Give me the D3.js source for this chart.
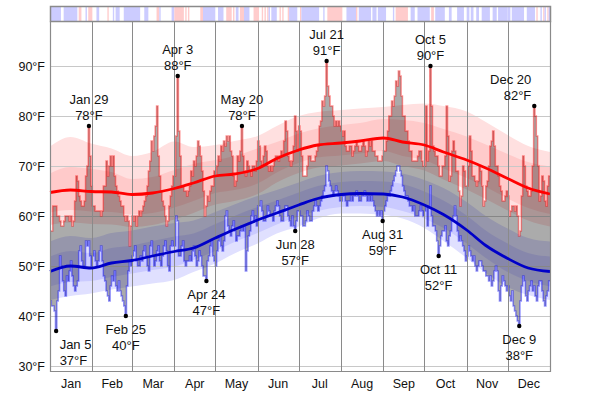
<!DOCTYPE html>
<html><head><meta charset="utf-8">
<script src="https://cdn.jsdelivr.net/npm/d3@7"></script>
<style>
body{margin:0;background:#fff}
svg{display:block}
text{font-family:"Liberation Sans",Arial,sans-serif;fill:#111}
</style>
</head><body><svg id="c" width="600" height="394"></svg>
<script>
// ---------- DATA ----------
const months = ["Jan","Feb","Mar","Apr","May","Jun","Jul","Aug","Sep","Oct","Nov","Dec"];
const monthStartDays = [0,31,60,91,121,152,182,213,244,274,305,335,366];
const yTicks = [30,40,50,60,70,80,90];

const dailyHigh = [
 57,57,62,62,62,60,60,59,58,58,59,60,60,60,59,60,58,59,63,68,67,64,63,62,62,63,68,70,78,72,66,
 62,62,61,61,61,61,60,61,66,66,71,68,70,72,70,72,68,66,65,64,63,62,62,60,59,60,59,54,58,
 60,59,60,58,60,61,60,61,62,63,64,66,69,71,75,73,76,78,82,72,68,65,63,62,60,58,59,62,64,66,68,
 68,76,88,77,72,66,66,65,65,64,65,66,69,68,71,70,72,75,74,72,69,65,60,62,64,63,65,66,66,69,
 68,70,72,71,74,73,75,74,76,75,76,73,72,68,66,67,72,71,73,78,72,69,68,71,70,69,68,70,70,69,71,
 75,74,71,70,72,74,73,70,69,70,69,70,71,72,72,71,72,73,72,75,79,77,72,71,70,71,74,80,77,73,
 78,77,72,68,68,68,70,72,72,71,71,71,72,73,74,78,79,83,82,84,91,86,84,82,82,80,78,79,78,79,78,
 77,76,77,74,73,73,74,74,72,73,74,75,74,73,73,74,75,74,72,73,75,74,75,73,73,72,72,71,71,71,72,
 73,73,75,77,80,80,83,82,84,87,86,89,88,84,80,80,77,77,75,73,73,71,71,71,71,72,73,73,71,70,
 70,82,71,73,90,82,74,73,72,72,70,68,68,70,70,72,82,76,67,68,73,75,73,69,69,65,62,64,70,69,66,
 66,70,76,73,68,68,67,66,67,70,69,66,62,63,66,67,70,74,75,77,74,70,70,68,66,65,63,63,64,65,
 64,60,61,62,62,61,62,60,56,57,64,72,70,66,65,64,64,65,70,82,80,76,70,63,64,68,67,63,62,66,68
];
const dailyLow = [
 43,42,42,41,37,43,45,52,50,47,45,44,48,47,49,51,48,46,45,46,47,53,54,51,50,50,55,54,55,52,50,
 52,53,51,50,51,53,54,51,48,47,45,44,43,46,48,47,49,46,45,47,45,44,43,42,40,46,49,51,50,
 52,53,54,51,50,50,52,51,53,54,52,50,49,54,55,52,50,51,53,54,51,50,52,54,55,53,50,49,54,55,54,
 54,60,59,52,52,54,55,51,50,51,51,52,51,53,54,52,50,51,53,52,50,48,48,47,51,52,54,55,52,51,
 50,53,55,56,54,53,55,60,61,58,57,56,58,59,57,55,56,56,57,58,57,58,49,53,56,57,60,61,59,60,58,
 62,62,63,61,59,59,60,62,61,60,60,59,61,62,63,62,60,59,59,61,62,62,60,59,58,60,58,57,59,61,
 61,60,60,58,58,59,61,60,59,59,61,62,63,62,61,62,63,64,65,66,70,69,67,66,65,64,65,66,65,64,63,
 63,64,64,63,62,63,63,64,63,64,64,65,64,63,63,64,64,65,64,63,64,63,64,63,62,61,60,61,60,61,59,
 61,62,63,64,64,65,66,67,68,69,70,70,69,68,66,65,64,64,63,62,62,61,62,60,60,60,61,62,61,60,
 61,62,58,62,66,60,58,58,57,55,52,54,56,57,57,58,55,54,56,57,59,60,62,60,57,55,56,55,54,53,51,
 52,54,53,52,51,52,50,49,50,51,51,50,49,49,48,48,47,48,46,47,49,50,49,45,43,46,48,47,46,45,
 46,44,43,45,42,41,40,39,38,43,46,48,47,44,43,45,46,47,45,46,44,43,46,47,47,45,43,42,44,45,47
];

// smoothed normals (day of year anchor points)
const bandDays = [0,15,30,45,60,75,91,105,121,135,152,166,182,196,213,227,244,258,274,288,305,319,335,350,366];
const avgHigh = [64.7,65.2,64.9,64.8,64.3,64.6,65.5,66.6,68.0,68.4,69.5,71.5,73.2,74.2,74.6,75.0,75.6,74.8,74.2,72.8,71.2,69.6,67.5,65.6,64.4];
const high90 = [73.9,75.8,74.5,73.5,72.0,72.8,74.9,73.8,74.2,75.0,76.0,78.0,80.0,80.8,81.2,81.5,81.8,82.2,82.5,82.0,80.9,78.8,76.2,74.0,72.8];
const high75 = [68.5,69.8,69.4,68.8,67.4,67.8,69.2,70.4,71.2,72.0,73.5,74.8,76.5,77.5,78.2,78.6,79.4,79.2,78.6,77.4,75.9,74.3,72.4,70.8,69.9];
const high25 = [60.7,61.2,60.9,60.8,60.3,60.6,61.7,63.0,64.6,65.2,66.5,68.7,70.6,71.7,72.1,72.5,73.0,72.0,71.2,69.5,67.6,65.8,63.5,61.6,60.4];
const high10 = [58.2,58.7,58.4,58.3,57.8,58.2,59.3,60.6,62.3,63.0,64.4,66.7,68.6,69.7,70.1,70.5,71.0,70.0,69.1,67.3,65.3,63.4,61.1,59.1,57.9];
const avgLow = [48.9,50.0,49.6,50.6,51.1,52.0,52.9,53.6,55.6,57.3,59.2,60.6,62.2,63.5,64.3,64.5,64.4,63.8,62.2,60.3,57.2,54.1,51.5,49.6,48.9];
const low90 = [54.9,56.0,55.6,56.6,57.1,57.9,58.6,59.1,60.8,62.3,64.0,65.2,66.7,68.0,68.8,69.0,68.9,68.5,67.2,65.6,62.8,60.0,57.5,55.6,54.9];
const low75 = [51.9,53.0,52.6,53.6,54.1,55.0,55.9,56.5,58.4,60.0,61.8,63.1,64.7,66.0,66.8,67.0,66.9,66.4,64.9,63.1,60.1,57.1,54.5,52.6,51.9];
const low25 = [45.9,46.8,47.0,47.8,48.5,49.2,49.9,51.2,53.0,54.8,56.6,58.3,59.9,61.0,61.8,62.0,61.8,61.0,59.5,57.6,54.5,51.6,48.8,47.0,45.9];
const low10 = [43.2,44.0,44.5,45.3,45.9,46.5,47.2,48.8,50.5,52.5,54.5,56.5,57.9,59.5,60.5,60.5,60.2,59.5,57.6,55.0,51.6,48.6,45.8,44.2,43.2];

// extremes annotated
const extremeDays   = [4, 28, 55, 93, 114, 140, 179, 202, 243, 278, 284, 343, 354];
const extremeDates  = ["Jan 5","Jan 29","Feb 25","Apr 3","Apr 24","May 20","Jun 28","Jul 21","Aug 31","Oct 5","Oct 11","Dec 9","Dec 20"];
const extremeTemps  = [37, 78, 40, 88, 47, 78, 57, 91, 59, 90, 52, 38, 82];
const extremeKinds  = ["low","high","low","high","low","high","low","high","low","high","low","low","high"];

// top strip: [first day, last day, kind]  b = blue, p = pink
const stripRuns = [
 [0,7,"b"],[10,19,"b"],[21,22,"p"],[26,26,"b"],[28,30,"p"],[34,35,"b"],[42,42,"p"],[46,46,"b"],[48,50,"b"],
 [54,65,"b"],[69,71,"b"],[78,79,"p"],[80,80,"b"],[89,90,"b"],[91,97,"p"],[99,99,"p"],[101,101,"p"],
 [110,111,"p"],[112,120,"b"],[123,126,"b"],[129,132,"p"],[134,134,"p"],[136,137,"b"],[139,141,"p"],
 [142,145,"b"],[149,152,"p"],[155,155,"p"],[157,157,"p"],[159,159,"p"],[160,160,"b"],[162,165,"b"],
 [168,168,"p"],[170,170,"p"],[174,174,"p"],[175,180,"b"],[183,183,"p"],[184,196,"b"],[200,200,"b"],
 [203,213,"p"],[217,223,"b"],[224,224,"p"],[226,234,"b"],[236,238,"b"],[240,245,"b"],[251,251,"b"],
 [253,261,"p"],[264,266,"b"],[269,277,"b"],[279,280,"p"],[282,288,"b"],[292,293,"b"],[298,302,"b"],
 [305,306,"b"],[308,309,"b"],[312,313,"b"],[316,321,"b"],[324,326,"b"],[328,334,"b"],[335,336,"b"],
 [338,346,"b"],[349,354,"b"],[356,356,"p"],[359,359,"b"],[361,361,"p"],[362,362,"b"],[364,364,"p"],[365,365,"b"]
];

// ---------- DRAW ----------
const svg = d3.select("#c");
const L = 50, R = 550, T = 21, B = 371;
const x = d3.scaleLinear().domain([0,366]).range([L,R]);
const y = d3.scaleLinear().domain([29,99]).range([B,T]);

svg.append("rect").attr("width",600).attr("height",394).attr("fill","#fff");

const bandPts = bandDays.map((d,i)=>i);
function band(lo, hi, fill){
  svg.append("path").datum(bandPts)
    .attr("d", d3.area().x(i=>x(bandDays[i])).y0(i=>y(lo[i])).y1(i=>y(hi[i])).curve(d3.curveMonotoneX))
    .attr("fill", fill);
}
band(high10, high90, "#ffe0e0");
band(high25, high75, "#ffcaca");
band(low10, low90, "#e0e0ff");
band(low25, low75, "#cacaff");

// horizontal grid
svg.append("g").selectAll("line").data(yTicks).join("line")
  .attr("x1",L).attr("x2",R).attr("y1",d=>y(d)).attr("y2",d=>y(d))
  .attr("stroke","#c8c8c8").attr("stroke-width",1).attr("shape-rendering","crispEdges");

// daily observed range
const days = dailyHigh.map((v,i)=>i).concat([366]);
const hi = i => dailyHigh[Math.min(i,365)], lo = i => dailyLow[Math.min(i,365)];
svg.append("path").datum(days)
  .attr("d", d3.area().x(i=>x(i)).y0(i=>y(lo(i))).y1(i=>y(hi(i))).curve(d3.curveStepAfter))
  .attr("fill","rgba(0,0,0,0.33)");
svg.append("path").datum(days)
  .attr("d", d3.line().x(i=>x(i)).y(i=>y(hi(i))).curve(d3.curveStepAfter))
  .attr("fill","none").attr("stroke","rgba(255,0,0,0.42)").attr("stroke-width",1.5);
svg.append("path").datum(days)
  .attr("d", d3.line().x(i=>x(i)).y(i=>y(lo(i))).curve(d3.curveStepAfter))
  .attr("fill","none").attr("stroke","rgba(0,0,255,0.42)").attr("stroke-width",1.5);

// month lines
svg.append("g").selectAll("line").data(monthStartDays.slice(1,12)).join("line")
  .attr("x1",d=>Math.round(x(d))+0.5).attr("x2",d=>Math.round(x(d))+0.5)
  .attr("y1",T).attr("y2",B)
  .attr("stroke","#8a8a8a").attr("stroke-width",1);

// average lines
svg.append("path").datum(bandPts)
  .attr("d", d3.line().x(i=>x(bandDays[i])).y(i=>y(avgHigh[i])).curve(d3.curveMonotoneX))
  .attr("fill","none").attr("stroke","#ff0000").attr("stroke-width",2.8);
svg.append("path").datum(bandPts)
  .attr("d", d3.line().x(i=>x(bandDays[i])).y(i=>y(avgLow[i])).curve(d3.curveMonotoneX))
  .attr("fill","none").attr("stroke","#0000c8").attr("stroke-width",2.8);

// frame
svg.append("path")
  .attr("d",`M${L+0.5},${T}V${B+0.5}H${R+0.5}V${T}`)
  .attr("fill","none").attr("stroke","#8a8a8a").attr("stroke-width",1.2);

// top strip
const stripTop = 6, stripH = 15;
svg.append("g").selectAll("rect").data(stripRuns).join("rect")
  .attr("x",d=>x(d[0])).attr("width",d=>x(d[1]+1)-x(d[0]))
  .attr("y",stripTop).attr("height",stripH)
  .attr("fill",d=>d[2]==="b"?"#ccccff":"#ffcccc");
svg.append("rect").attr("x",L+0.5).attr("y",stripTop+0.5).attr("width",R-L).attr("height",stripH)
  .attr("fill","none").attr("stroke","#8a8a8a").attr("stroke-width",1.5);

// y axis labels
const yAxis = d3.axisLeft(y).tickValues(yTicks).tickSize(0).tickPadding(5).tickFormat(d=>d+"°F");
const ga = svg.append("g").attr("transform",`translate(${L},0)`).call(yAxis);
ga.select(".domain").remove();
ga.selectAll("text").attr("font-size",12.5).attr("font-family",'"Liberation Sans",Arial,sans-serif').attr("fill","#111");

// month labels
svg.append("g").selectAll("text").data(months).join("text")
  .attr("x",(d,i)=>x((monthStartDays[i]+monthStartDays[i+1])/2))
  .attr("y",388).attr("text-anchor","middle").attr("font-size",12.5).text(d=>d);

// extremes
extremeDays.forEach((d,i)=>{
  const cx = x(d+0.5), cy = y(extremeTemps[i]);
  svg.append("circle").attr("cx",cx).attr("cy",cy).attr("r",2.2).attr("fill","#000");
  let anchor = "middle", tx = cx;
  if (cx < 70) { anchor = "start"; tx = cx + 3.5; }
  else if (cx > 528) { anchor = "end"; tx = cx - 3; }
  const isHigh = extremeKinds[i]==="high";
  const y1 = isHigh ? cy - 22 : cy + 17.5;
  const y2 = isHigh ? cy - 6 : cy + 33.5;
  svg.append("text").attr("x",tx).attr("y",y1).attr("text-anchor",anchor).attr("font-size",13).text(extremeDates[i]);
  svg.append("text").attr("x",tx).attr("y",y2).attr("text-anchor",anchor).attr("font-size",13).text(extremeTemps[i]+"°F");
});
</script>
</body></html>
